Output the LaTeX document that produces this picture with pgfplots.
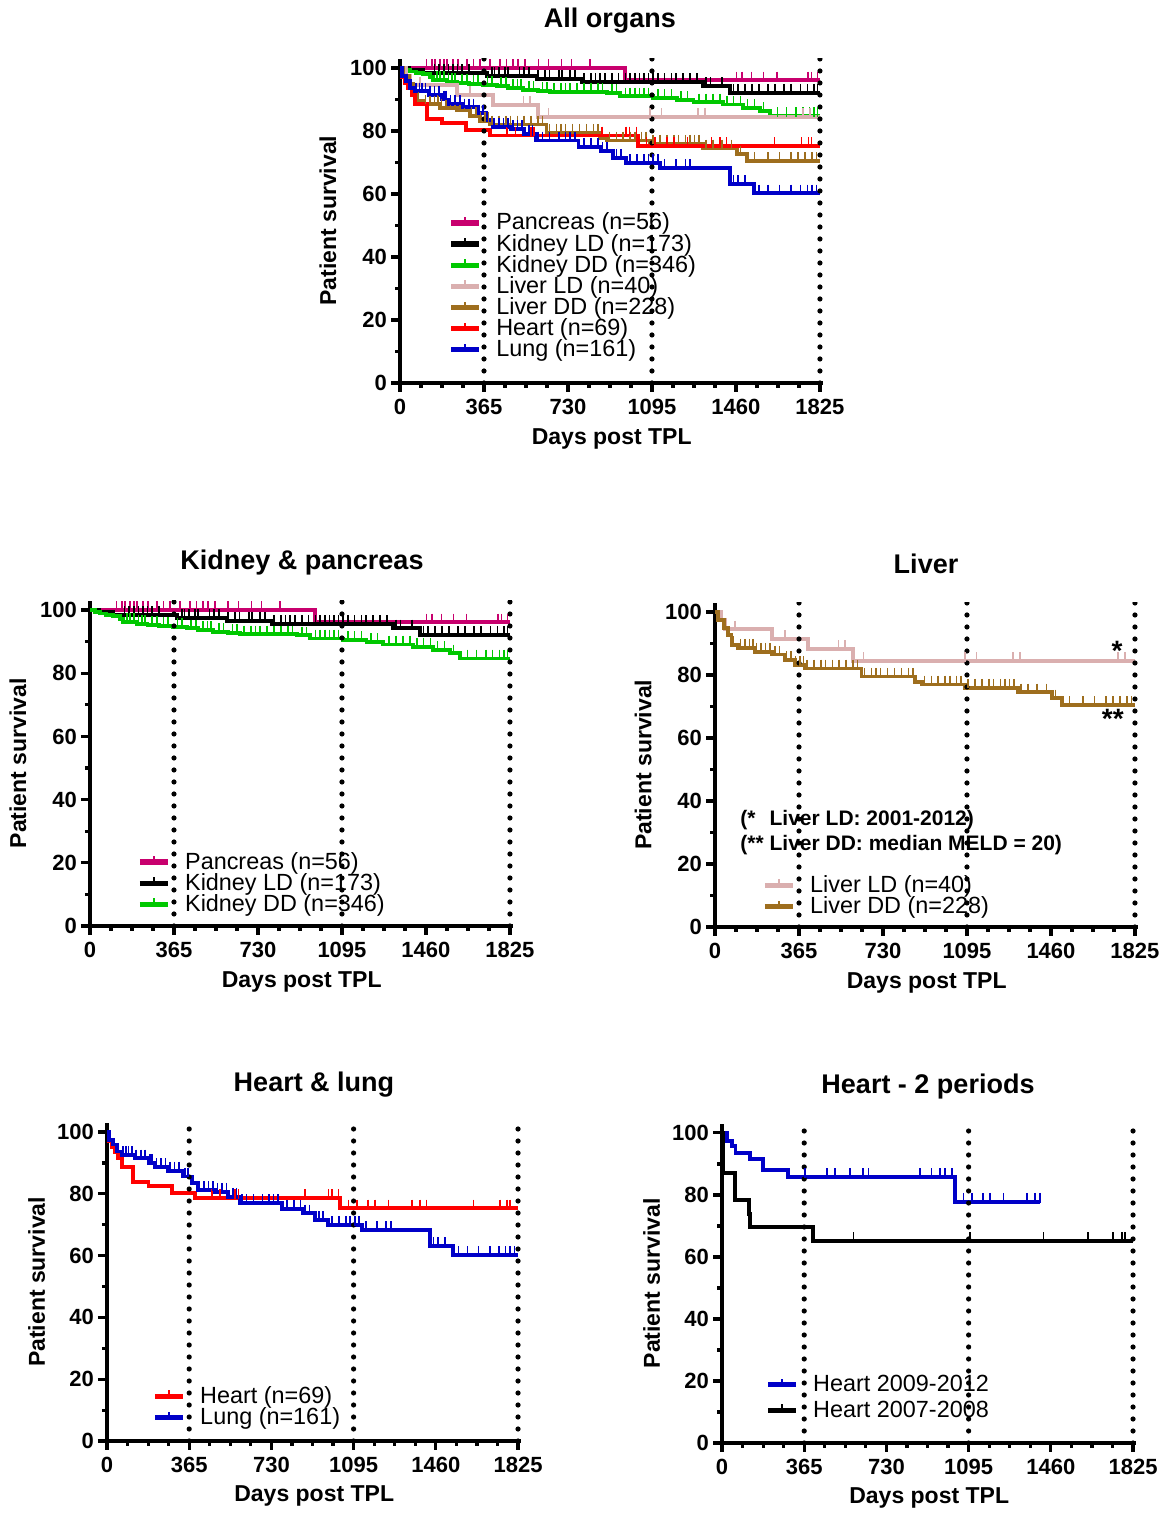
\documentclass[border=0pt]{standalone}
\usepackage{fontspec}
\setmainfont{Liberation Sans}
\usepackage{pgfplots}
\usepackage{pgfplotstable}
\pgfplotsset{compat=1.18}

\definecolor{pancol}{RGB}{200,0,110}
\definecolor{kddcol}{RGB}{0,200,0}
\definecolor{lldcol}{RGB}{218,175,175}
\definecolor{lddcol}{RGB}{158,110,30}
\definecolor{heartcol}{RGB}{255,0,0}
\definecolor{lungcol}{RGB}{0,0,200}

% Kaplan-Meier steps (day, survival %) and censored points
\pgfplotstableread{
t S
0 100
978 96.1
1825 96.1
}\pancreas
\pgfplotstableread{
t S
116 100
140 100
152 100
174 100
190 100
203 100
230 100
253 100
290 100
320 100
348 100
391 100
434 100
463 100
490 100
514 100
543 100
601 100
645 100
702 100
746 100
826 100
1463 96.1
1485 96.1
1528 96.1
1579 96.1
1637 96.1
1774 96.1
1789 96.1
1815 96.1
}\pancreasC
\pgfplotstableread{
t S
0 100
40 99.4
100 98.4
377 97.4
594 96.5
789 95.5
1318 94.2
1434 92.1
1825 92.1
}\kld
\pgfplotstableread{
t S
150 98.4
170 98.4
190 98.4
210 98.4
230 98.4
250 98.4
270 98.4
300 98.4
400 97.4
410 97.4
430 97.4
455 97.4
470 97.4
520 97.4
540 97.4
560 97.4
600 96.5
630 96.5
650 96.5
690 96.5
705 96.5
740 96.5
760 96.5
800 95.5
830 95.5
850 95.5
870 95.5
890 95.5
920 95.5
950 95.5
980 95.5
1000 95.5
1020 95.5
1040 95.5
1060 95.5
1080 95.5
1100 95.5
1120 95.5
1150 95.5
1180 95.5
1200 95.5
1230 95.5
1260 95.5
1290 95.5
1330 94.2
1350 94.2
1400 94.2
1450 92.1
1470 92.1
1500 92.1
1530 92.1
1560 92.1
1600 92.1
1630 92.1
1670 92.1
1700 92.1
1740 92.1
1770 92.1
1800 92.1
1815 92.1
}\kldC
\pgfplotstableread{
t S
0 100
20 99.4
43 98.9
70 98.5
101 98.0
130 97.2
145 96.3
203 95.7
250 95.3
300 95.0
362 94.7
420 94.2
470 93.7
536 93.1
600 92.7
652 92.3
898 92.0
956 91.0
1100 90.5
1202 89.9
1275 89.1
1405 88.4
1492 87.3
1565 86.3
1608 84.7
1825 84.7
}\kdd
\pgfplotstableread{
t S
160 96.3
175 96.3
190 96.3
210 95.7
225 95.7
240 95.7
270 95.3
290 95.3
320 95.0
340 95.0
380 94.7
400 94.7
440 94.2
460 94.2
490 93.7
510 93.7
525 93.7
560 93.1
580 93.1
620 92.7
640 92.7
670 92.3
700 92.3
720 92.3
740 92.3
770 92.3
800 92.3
830 92.3
860 92.3
880 92.3
920 92.0
940 92.0
980 91.0
1000 91.0
1020 91.0
1040 91.0
1060 91.0
1080 91.0
1120 90.5
1150 90.5
1180 90.5
1220 89.9
1250 89.9
1300 89.1
1330 89.1
1360 89.1
1390 89.1
1420 88.4
1450 88.4
1480 88.4
1510 87.3
1540 87.3
1580 86.3
1640 84.7
1680 84.7
1720 84.7
1750 84.7
1780 84.7
1800 84.7
1815 84.7
}\kddC
\pgfplotstableread{
t S
0 100
25 97.5
43 94.5
246 91.4
405 88.2
600 84.5
1825 84.5
}\lld
\pgfplotstableread{
t S
87 94.5
304 91.4
536 88.2
565 88.2
645 84.5
1086 84.5
1137 84.5
1296 84.5
1325 84.5
1752 84.5
1781 84.5
}\lldC
\pgfplotstableread{
t S
0 100
14 97.5
40 95.0
57 92.7
72 89.5
101 88.7
174 87.4
246 86.5
304 84.8
347 83.2
391 82.1
637 79.5
869 77.7
900 77.0
1086 76.0
1318 74.5
1463 72.6
1507 70.5
1825 70.5
}\ldd
\pgfplotstableread{
t S
80 89.5
110 88.7
130 88.7
150 88.7
165 88.7
180 87.4
200 87.4
220 87.4
240 87.4
260 86.5
280 86.5
310 84.8
330 84.8
350 83.2
370 83.2
385 83.2
400 82.1
430 82.1
460 82.1
480 82.1
510 82.1
540 82.1
570 82.1
600 82.1
620 82.1
650 79.5
680 79.5
700 79.5
720 79.5
750 79.5
780 79.5
810 79.5
840 79.5
860 79.5
910 77.0
940 77.0
970 77.0
1000 77.0
1020 77.0
1050 77.0
1070 77.0
1100 76.0
1130 76.0
1160 76.0
1190 76.0
1210 76.0
1240 76.0
1260 76.0
1280 76.0
1300 76.0
1330 74.5
1360 74.5
1400 74.5
1440 74.5
1480 72.6
1540 70.5
1600 70.5
1650 70.5
1700 70.5
1730 70.5
1760 70.5
1790 70.5
1810 70.5
}\lddC
\pgfplotstableread{
t S
0 100
5 97.1
20 95.2
36 93.6
50 91.5
65 88.6
117 83.9
184 82.5
287 80.4
391 78.6
1035 75.3
1825 75.3
}\heart
\pgfplotstableread{
t S
465 78.6
502 78.6
568 78.6
583 78.6
879 78.6
983 78.6
998 78.6
1027 78.6
1072 75.3
1109 75.3
1160 75.3
1190 75.3
1249 75.3
1353 75.3
1390 75.3
1419 75.3
1627 75.3
1745 75.3
1775 75.3
1789 75.3
}\heartC
\pgfplotstableread{
t S
0 100
10 97.4
25 96.0
44 93.7
65 92.6
124 91.5
184 90.0
213 88.6
272 87.5
339 85.6
376 83.4
405 81.2
480 80.7
539 79.1
591 77.0
776 75.0
872 73.7
924 71.5
983 69.9
1131 68.3
1434 63.1
1538 60.2
1825 60.2
}\lung
\pgfplotstableread{
t S
70 92.6
85 92.6
95 92.6
110 92.6
130 91.5
150 91.5
170 91.5
190 90.0
200 90.0
220 88.6
240 88.6
260 88.6
280 87.5
300 87.5
320 87.5
345 85.6
360 85.6
410 81.2
430 81.2
450 81.2
470 81.2
490 80.7
510 80.7
530 80.7
560 79.1
575 79.1
600 77.0
620 77.0
650 77.0
690 77.0
720 77.0
740 77.0
760 77.0
800 75.0
830 75.0
860 75.0
880 73.7
900 73.7
940 71.5
960 71.5
1000 69.9
1030 69.9
1060 69.9
1080 69.9
1100 69.9
1120 69.9
1150 68.3
1200 68.3
1240 68.3
1260 68.3
1450 63.1
1470 63.1
1500 63.1
1560 60.2
1600 60.2
1650 60.2
1700 60.2
1740 60.2
1770 60.2
1790 60.2
1810 60.2
}\lungC
\pgfplotstableread{
t S
0 100
21 97.5
43 95.8
60 93.4
124 91.6
183 88.0
294 85.7
1035 77.8
1412 77.8
}\hnew
\pgfplotstableread{
t S
368 85.7
465 85.7
502 85.7
568 85.7
627 85.7
650 85.7
879 85.7
931 85.7
968 85.7
990 85.7
1020 85.7
1072 77.8
1109 77.8
1160 77.8
1190 77.8
1249 77.8
1353 77.8
1390 77.8
1412 77.8
}\hnewC
\pgfplotstableread{
t S
0 100
5 87.0
58 78.3
120 73.9
126 69.6
405 65.2
1825 65.2
}\hold
\pgfplotstableread{
t S
583 65.2
1101 65.2
1427 65.2
1626 65.2
1737 65.2
1776 65.2
1790 65.2
}\holdC

\pgfplotsset{
  km/.style={
    scale only axis,
    xmin=0, xmax=1840, ymin=0, ymax=103,
    axis x line*=bottom, axis y line*=left,
    axis line style={line width=2pt},
    xtick={0,365,730,1095,1460,1825}, minor x tick num=3,
    ytick={0,20,40,60,80,100}, minor y tick num=1,
    tick align=outside, major tick length=4.5pt, minor tick length=2.5pt,
    every tick/.style={black, line width=1.6pt},
    tick label style={font=\fontsize{11}{13}\selectfont\bfseries},
    yticklabel style={xshift=1.5pt},
    /pgf/number format/assume math mode=true,
    /pgf/number format/1000 sep={},
    xlabel={Days post TPL}, ylabel={Patient survival},
    label style={font=\fontsize{11.5}{13}\selectfont\bfseries},
    xlabel style={at={(axis description cs:0.5,-0.172)}, anchor=center},
    ylabel style={at={(axis description cs:-0.17,0.5)}, anchor=center},
    legend cell align=left,
    legend style={draw=none, fill=none, inner sep=0pt,
      font=\fontsize{11.7}{13}\selectfont,
      column sep=7pt, row sep=0pt, nodes={inner sep=0.3pt}},
    legend image code/.code={
      \draw[line width=2.6pt] (0pt,0pt) -- (14pt,0pt);
      \draw[line width=0.7pt] (7pt,0pt) -- (7pt,3pt);
    },
  },
  curve/.style={const plot, line width=1.9pt, mark=none, #1},
  cens/.style={only marks, mark=|, mark size=2.4pt, forget plot, #1,
    mark options={yshift=2pt, line width=0.8pt}},
  vdots/.style={forget plot, black, line width=2.6pt, line cap=round,
    dash pattern=on 0pt off 6pt},
}
\newcommand{\vlines}{%
  \addplot[vdots] coordinates {(365,0) (365,103)};
  \addplot[vdots] coordinates {(1095,0) (1095,103)};
  \addplot[vdots] coordinates {(1825,0) (1825,103)};
}

\begin{document}
\begin{tikzpicture}
\useasboundingbox (0,0) rectangle (583pt,756.5pt);

\node[font=\fontsize{13.5}{15}\selectfont\bfseries] at (305pt,746pt) {All organs};
\node[font=\fontsize{13.5}{15}\selectfont\bfseries] at (151pt,475pt) {Kidney \& pancreas};
\node[font=\fontsize{13.5}{15}\selectfont\bfseries] at (463pt,474.5pt) {Liver};
\node[font=\fontsize{13.5}{15}\selectfont\bfseries] at (157pt,214pt) {Heart \& lung};
\node[font=\fontsize{13.5}{15}\selectfont\bfseries] at (464pt,213pt) {Heart - 2 periods};

% All organs
\begin{axis}[km, at={(200pt,565pt)}, anchor=origin, width=211.7pt, height=162.2pt,
  legend style={at={(axis cs:209,54.3)}, anchor=north west}]
\addplot[curve=pancol] table[x=t,y=S] {\pancreas};
\addplot[curve=black] table[x=t,y=S] {\kld};
\addplot[curve=kddcol] table[x=t,y=S] {\kdd};
\addplot[curve=lldcol] table[x=t,y=S] {\lld};
\addplot[curve=lddcol] table[x=t,y=S] {\ldd};
\addplot[curve=heartcol] table[x=t,y=S] {\heart};
\addplot[curve=lungcol] table[x=t,y=S] {\lung};
\addplot[cens=pancol] table[x=t,y=S] {\pancreasC};
\addplot[cens=black] table[x=t,y=S] {\kldC};
\addplot[cens=kddcol] table[x=t,y=S] {\kddC};
\addplot[cens=lldcol] table[x=t,y=S] {\lldC};
\addplot[cens=lddcol] table[x=t,y=S] {\lddC};
\addplot[cens=heartcol] table[x=t,y=S] {\heartC};
\addplot[cens=lungcol] table[x=t,y=S] {\lungC};
\vlines
\legend{Pancreas (n=56), Kidney LD (n=173), Kidney DD (n=346), Liver LD (n=40),
  Liver DD (n=228), Heart (n=69), Lung (n=161)}
\end{axis}

% Kidney & pancreas
\begin{axis}[km, at={(45pt,293.5pt)}, anchor=origin, width=211.7pt, height=162.7pt,
  legend style={at={(axis cs:204,23.7)}, anchor=north west}]
\addplot[curve=pancol] table[x=t,y=S] {\pancreas};
\addplot[curve=black] table[x=t,y=S] {\kld};
\addplot[curve=kddcol] table[x=t,y=S] {\kdd};
\addplot[cens=pancol] table[x=t,y=S] {\pancreasC};
\addplot[cens=black] table[x=t,y=S] {\kldC};
\addplot[cens=kddcol] table[x=t,y=S] {\kddC};
\vlines
\legend{Pancreas (n=56), Kidney LD (n=173), Kidney DD (n=346)}
\end{axis}

% Liver
\begin{axis}[km, at={(357.5pt,293pt)}, anchor=origin, width=211.7pt, height=162.2pt,
  legend style={at={(axis cs:204,16.7)}, anchor=north west}]
\addplot[curve=lldcol] table[x=t,y=S] {\lld};
\addplot[curve=lddcol] table[x=t,y=S] {\ldd};
\addplot[cens=lldcol] table[x=t,y=S] {\lldC};
\addplot[cens=lddcol] table[x=t,y=S] {\lddC};
\vlines
\node[font=\fontsize{14}{15}\selectfont\bfseries] at (axis cs:1747,87.6) {*};
\node[font=\fontsize{14}{15}\selectfont\bfseries] at (axis cs:1729,66.0) {**};
\node[anchor=west, inner sep=0pt, font=\fontsize{10.5}{12.5}\selectfont\bfseries]
  at (axis cs:109,29.7)
  {\begin{tabular}{@{}l@{ }l@{}}(* & Liver LD: 2001-2012)\\(** & Liver DD: median MELD = 20)\end{tabular}};
\legend{Liver LD (n=40), Liver DD (n=228)}
\end{axis}

% Heart & lung
\begin{axis}[km, at={(53.5pt,36pt)}, anchor=origin, width=207.2pt, height=159.1pt,
  legend style={at={(axis cs:200,18.0)}, anchor=north west}]
\addplot[curve=heartcol] table[x=t,y=S] {\heart};
\addplot[curve=lungcol] table[x=t,y=S] {\lung};
\addplot[cens=heartcol] table[x=t,y=S] {\heartC};
\addplot[cens=lungcol] table[x=t,y=S] {\lungC};
\vlines
\legend{Heart (n=69), Lung (n=161)}
\end{axis}

% Heart - 2 periods
\begin{axis}[km, at={(361pt,35pt)}, anchor=origin, width=207.2pt, height=159.7pt,
  legend style={at={(axis cs:191,22.2)}, anchor=north west, row sep=2.5pt}]
\addplot[curve=lungcol] table[x=t,y=S] {\hnew};
\addplot[curve=black] table[x=t,y=S] {\hold};
\addplot[cens=lungcol] table[x=t,y=S] {\hnewC};
\addplot[cens=black] table[x=t,y=S] {\holdC};
\vlines
\legend{Heart 2009-2012, Heart 2007-2008}
\end{axis}
\end{tikzpicture}
\end{document}
